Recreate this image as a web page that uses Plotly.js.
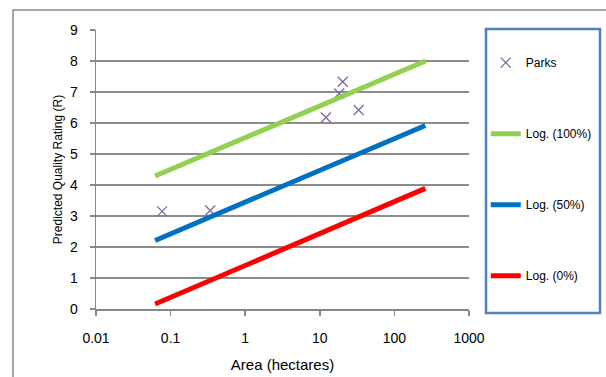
<!DOCTYPE html>
<html>
<head>
<meta charset="utf-8">
<script src="https://cdn.plot.ly/plotly-3.0.1.min.js"></script>
<style>html,body{margin:0;padding:0;background:#fff;}#chart{width:606px;height:377px;}</style>
</head>
<body>
<div id="chart"></div>
<script>
// Data
const parksArea = [0.077, 0.34, 12.1, 18.2, 20.3, 33.2];
const parksRating = [3.15, 3.18, 6.18, 6.95, 7.33, 6.42];

const trendArea = [0.062, 260];
const trend100 = [4.29, 8.0];
const trend50 = [2.21, 5.92];
const trend0 = [0.16, 3.89];

const xTickVals = [0.01, 0.1, 1, 10, 100, 1000];
const xTickText = ["0.01", "0.1", "1", "10", "100", "1000"];
const yTickVals = [0, 1, 2, 3, 4, 5, 6, 7, 8, 9];

const FONT = "Liberation Sans, Arial, sans-serif";

const traces = [
  {x: parksArea, y: parksRating, mode: "markers", type: "scatter", name: "Parks",
   legendgroup: "a",
   marker: {symbol: "x-thin-open", size: 10, color: "#8064a2", line: {width: 1.3, color: "#8064a2"}}},
  {x: trendArea, y: trend100, mode: "lines", type: "scatter", name: "Log. (100%)", legendgroup: "b",
   line: {color: "#92d050", width: 5}},
  {x: trendArea, y: trend50, mode: "lines", type: "scatter", name: "Log. (50%)", legendgroup: "c",
   line: {color: "#0070c0", width: 5}},
  {x: trendArea, y: trend0, mode: "lines", type: "scatter", name: "Log. (0%)", legendgroup: "d",
   line: {color: "#ff0000", width: 5}}
];

const layout = {
  width: 606, height: 377,
  margin: {l: 96, r: 137, t: 30, b: 68, autoexpand: false},
  paper_bgcolor: "#ffffff", plot_bgcolor: "#ffffff",
  font: {family: FONT, size: 13, color: "#000"},
  showlegend: true,
  legend: {x: 1.045, y: 0.935, xanchor: "left", yanchor: "top",
           tracegroupgap: 52, traceorder: "grouped",
           font: {family: FONT, size: 12, color: "#000"},
           bgcolor: "rgba(0,0,0,0)", borderwidth: 0},
  xaxis: {type: "log", range: [-2, 3], tickvals: xTickVals, ticktext: xTickText,
          showgrid: false, zeroline: false, showline: true, linecolor: "#868686", linewidth: 1.5,
          ticks: "outside", ticklen: 5, tickcolor: "#868686", tickwidth: 1.5,
          ticklabelstandoff: 11,
          tickfont: {family: FONT, size: 14},
          title: {text: "Area (hectares)", font: {family: FONT, size: 15}, standoff: 14}},
  yaxis: {range: [0, 9], tickvals: yTickVals, showgrid: true, gridcolor: "#8c8c8c", gridwidth: 1.5,
          zeroline: false, showline: true, linecolor: "#868686", linewidth: 1.5,
          ticks: "outside", ticklen: 5, tickcolor: "#868686", tickwidth: 1.5,
          ticklabelstandoff: 9,
          tickfont: {family: FONT, size: 14},
          title: {text: "Predicted Quality Rating (R)", font: {family: FONT, size: 12}, standoff: 4}},
  shapes: [
    {type: "rect", xref: "paper", yref: "paper", x0: -0.2225, x1: 1.45, y0: -0.35, y1: 1.0717,
     line: {color: "#898989", width: 1.5}, fillcolor: "rgba(0,0,0,0)", layer: "below"},
    {type: "rect", xref: "paper", yref: "paper", x0: 1.0456, x1: 1.3512, y0: -0.0143, y1: 1.0036,
     line: {color: "#4f81bd", width: 2.5}, fillcolor: "rgba(0,0,0,0)"}
  ]
};

Plotly.newPlot("chart", traces, layout, {displayModeBar: false, staticPlot: true});
</script>
</body>
</html>
